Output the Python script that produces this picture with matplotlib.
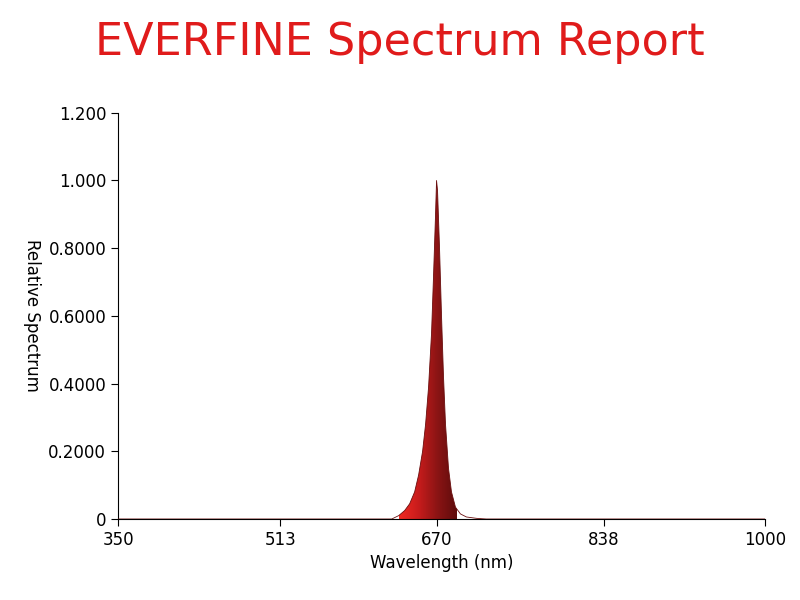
import numpy as np
import matplotlib
matplotlib.use("Agg")
import matplotlib.pyplot as plt
from matplotlib.colors import LinearSegmentedColormap
from matplotlib.patches import Polygon

wavelength = [350, 600, 625, 632, 638, 643, 648, 652, 656, 659, 662, 665, 667, 669, 670, 671, 673, 675, 677, 679, 682, 685, 689, 694, 700, 710, 720, 1000]
intensity = [0, 0, 0, 0.01, 0.025, 0.045, 0.08, 0.13, 0.2, 0.28, 0.39, 0.55, 0.72, 0.9, 1.0, 0.97, 0.8, 0.6, 0.42, 0.28, 0.15, 0.08, 0.035, 0.015, 0.006, 0.002, 0, 0]
xticks = [350, 513, 670, 838, 1000]
yticks = [0, 0.2, 0.4, 0.6, 0.8, 1.0, 1.2]
ytick_labels = ["0", "0.2000", "0.4000", "0.6000", "0.8000", "1.000", "1.200"]

fig = plt.figure(figsize=(8, 6), dpi=100)
ax = fig.add_axes([0.1475, 0.135, 0.8088, 0.677])
ax.set_xlim(350, 1000)
ax.set_ylim(0, 1.2)

cmap = LinearSegmentedColormap.from_list("r", ["#f02a22", "#c81c1c", "#8a1414", "#5e0c0c"])
img = ax.imshow(np.linspace(0, 1, 256).reshape(1, -1), cmap=cmap, aspect="auto",
                extent=[632, 690, 0, 1.0], zorder=2)
poly = Polygon(np.column_stack([wavelength, intensity]), closed=True, transform=ax.transData,
               facecolor="none", edgecolor="none")
ax.add_patch(poly)
img.set_clip_path(poly)
ax.plot(wavelength, intensity, color="#6a0e0e", lw=0.6, zorder=3)

ax.set_xticks(xticks)
ax.set_xticklabels([str(t) for t in xticks])
ax.set_yticks(yticks)
ax.set_yticklabels(ytick_labels)
ax.tick_params(labelsize=12, length=5, color="black")
for s in ["top", "right"]:
    ax.spines[s].set_visible(False)
ax.set_xlabel("Wavelength (nm)", fontsize=12)
ax.set_ylabel("Relative Spectrum", fontsize=12, rotation=270, labelpad=18)
fig.text(0.5, 0.93, "EVERFINE Spectrum Report", ha="center", va="center",
         fontsize=32, color="#e01b1b", family="Liberation Sans Narrow")
fig.savefig("out.png", dpi=100)
